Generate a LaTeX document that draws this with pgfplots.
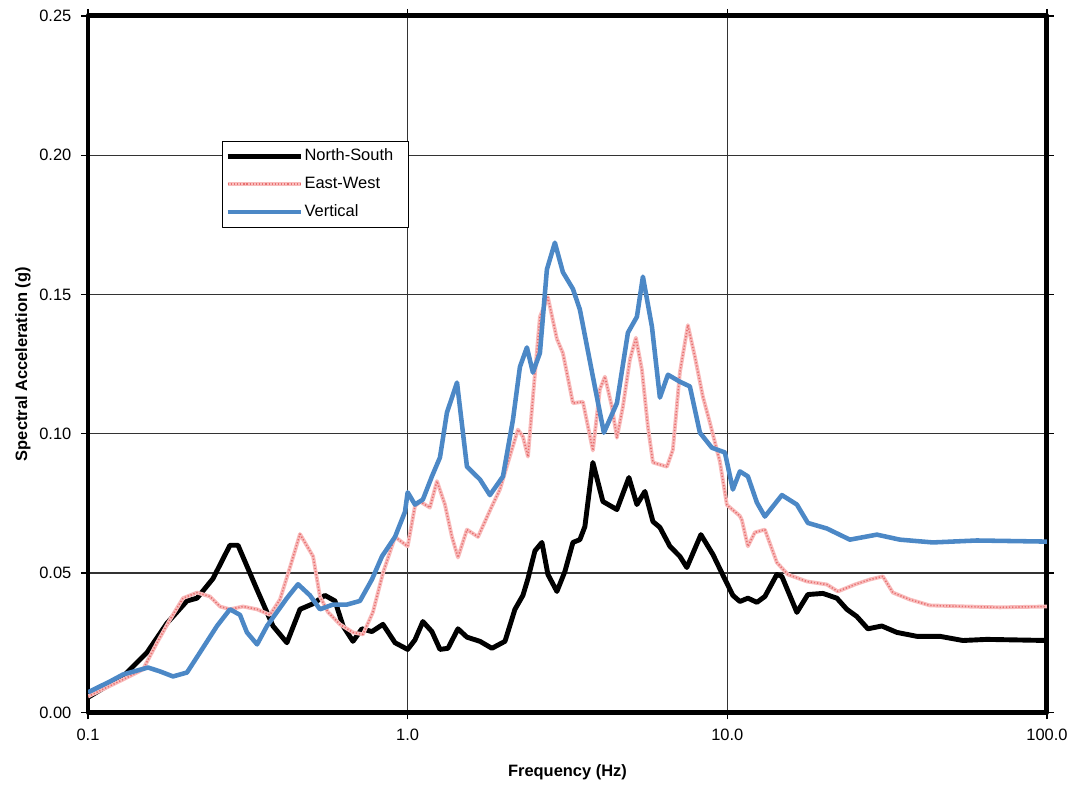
\documentclass[border=0pt]{standalone}
\usepackage{pgfplots}
\pgfplotsset{compat=1.18}
\usepackage{fontspec}
\setmainfont{Liberation Sans}

\definecolor{nscol}{RGB}{0,0,0}
\definecolor{ewcol}{RGB}{248,188,188}
\definecolor{ewdot}{RGB}{232,112,112}
\definecolor{vcol}{RGB}{76,136,198}

% North-South component
\pgfplotstableread{
f       sa
0.1     0.0054
0.1287  0.0129
0.153   0.0215
0.1766  0.032
0.204   0.040
0.2193  0.041
0.246   0.048
0.278   0.060
0.2946  0.060
0.338   0.044
0.379   0.031
0.419   0.025
0.4605  0.037
0.506   0.039
0.551   0.042
0.5925  0.040
0.628   0.031
0.6745  0.0255
0.7195  0.030
0.773   0.029
0.837   0.0316
0.913   0.025
1.0     0.0226
1.054   0.026
1.116   0.0326
1.191   0.029
1.262   0.0226
1.337   0.023
1.437   0.030
1.533   0.027
1.684   0.0255
1.835   0.023
2.016   0.0255
2.166   0.037
2.294   0.042
2.379   0.048
2.502   0.058
2.631   0.061
2.747   0.0495
2.931   0.0434
3.105   0.0506
3.289   0.061
3.458   0.062
3.585   0.0667
3.798   0.0897
4.082   0.0757
4.515   0.0728
4.923   0.0843
5.215   0.0746
5.525   0.0793
5.853   0.0685
6.154   0.0664
6.615   0.0596
7.107   0.056
7.474   0.052
8.268   0.0638
9.016   0.0567
9.62    0.050
10.41   0.0420
10.95   0.0398
11.60   0.041
12.38   0.0395
13.11   0.0416
14.29   0.0495
14.82   0.0488
16.51   0.0359
17.87   0.0423
19.91   0.0427
22.02   0.041
23.66   0.037
25.43   0.0344
27.53   0.030
30.45   0.031
33.93   0.0287
39.18   0.0273
46.24   0.0273
54.58   0.0258
64.86   0.0262
100     0.0258
}\tblNS

% East-West component
\pgfplotstableread{
f       sa
0.1     0.0057
0.1287  0.0118
0.1486  0.0154
0.1644  0.025
0.1805  0.0333
0.1983  0.041
0.2193  0.043
0.2407  0.0416
0.2588  0.038
0.278   0.037
0.3053  0.038
0.338   0.037
0.3709  0.035
0.3987  0.0405
0.4283  0.052
0.4605  0.064
0.506   0.056
0.5316  0.0416
0.5632  0.036
0.6141  0.0316
0.6745  0.0287
0.7247  0.028
0.7789  0.036
0.837   0.050
0.913   0.063
1.0     0.0596
1.054   0.074
1.093   0.0757
1.174   0.0735
1.235   0.083
1.308   0.0746
1.376   0.063
1.437   0.0556
1.533   0.0656
1.660   0.063
1.835   0.074
1.944   0.080
2.089   0.092
2.213   0.1015
2.294   0.099
2.379   0.0918
2.465   0.113
2.593   0.142
2.747   0.149
2.931   0.134
3.060   0.129
3.289   0.111
3.534   0.1115
3.798   0.094
3.995   0.116
4.141   0.1205
4.355   0.1097
4.515   0.0986
4.714   0.1097
4.958   0.1266
5.177   0.1345
5.406   0.123
5.644   0.1026
5.853   0.0897
6.474   0.0882
6.758   0.0943
7.107   0.122
7.529   0.139
7.919   0.1277
8.389   0.1133
8.822   0.104
9.48    0.090
9.97    0.0745
10.95   0.0705
11.11   0.069
11.60   0.0596
12.20   0.0646
13.11   0.0656
14.29   0.0538
15.47   0.0495
17.74   0.047
20.49   0.0459
22.18   0.0434
25.07   0.0459
27.93   0.0477
30.67   0.0488
32.96   0.043
37.26   0.0405
43.02   0.0384
56.18   0.038
71.23   0.0377
100     0.038
}\tblEW

% Vertical component
\pgfplotstableread{
f       sa
0.1     0.0072
0.1172  0.0111
0.1287  0.0136
0.1541  0.0161
0.168   0.0147
0.1845  0.0129
0.204   0.0143
0.224   0.0215
0.2532  0.031
0.278   0.037
0.2988  0.035
0.3142  0.0287
0.338   0.0244
0.363   0.031
0.419   0.041
0.4539  0.046
0.4947  0.042
0.5316  0.037
0.5839  0.0387
0.6459  0.0387
0.7092  0.040
0.7732  0.0477
0.8312  0.056
0.913   0.063
0.981   0.072
1.0     0.079
1.054   0.0746
1.116   0.0764
1.191   0.0847
1.262   0.0915
1.327   0.1076
1.427   0.1184
1.533   0.0882
1.684   0.0836
1.809   0.078
1.987   0.0847
2.135   0.105
2.245   0.124
2.361   0.131
2.465   0.122
2.593   0.129
2.727   0.159
2.888   0.1686
3.060   0.158
3.289   0.152
3.458   0.1446
3.798   0.1205
4.111   0.1004
4.515   0.111
4.888   0.1363
5.215   0.142
5.445   0.1564
5.810   0.1385
6.154   0.113
6.521   0.1212
7.107   0.1187
7.638   0.117
8.210   0.1004
8.949   0.095
9.828   0.0933
10.41   0.080
10.95   0.0865
11.60   0.0847
12.38   0.0753
13.11   0.0703
14.82   0.078
16.51   0.0746
17.87   0.068
20.49   0.066
24.18   0.062
29.38   0.0638
34.67   0.062
43.96   0.061
60.36   0.0617
100     0.0613
}\tblV

\begin{document}
\begin{tikzpicture}[font=\fontsize{9.4}{11.3}\selectfont]
\begin{axis}[
  scale only axis,
  width=548pt, height=398pt,
  xmode=log,
  xmin=0.1, xmax=100,
  ymin=0, ymax=0.25,
  xtick={0.1,1,10,100},
  xticklabels={0.1,1.0,10.0,100.0},
  xminorticks=false,
  ytick={0,0.05,0.1,0.15,0.2,0.25},
  yticklabels={0.00,0.05,0.10,0.15,0.20,0.25},
  grid=major,
  major grid style={black!80, line width=0.7pt},
  axis line style={line width=2.8pt, black},
  tick align=outside,
  major tick length=4pt,
  tick style={black, line width=0.8pt},
  xticklabel style={yshift=-2pt},
  yticklabel style={xshift=-2pt},
  xlabel={\textbf{Frequency (Hz)}},
  ylabel={\textbf{Spectral Acceleration (g)}},
  xlabel style={at={(axis description cs:0.5,-0.0862)}, anchor=center},
  ylabel style={at={(axis description cs:-0.068,0.5)}, anchor=center},
  legend style={
    at={(axis description cs:0.1397,0.821)}, anchor=north west,
    draw=black, line width=0.6pt, fill=white,
    inner xsep=1.5pt, inner ysep=2.5pt,
    row sep=3.8pt,
    nodes={inner xsep=0.6pt},
    font=\fontsize{9.4}{11.3}\selectfont,
  },
  legend cell align=left,
  legend image code/.code={\draw[#1] (0pt,0pt) -- (42pt,0pt);},
  line join=round,
]
\addplot[color=nscol, line width=2.8pt] table[x=f, y=sa] {\tblNS};
\addlegendentry{North-South\hspace*{6.4pt}}
\addplot[color=ewcol, line width=2.2pt,
  postaction={draw=ewdot, line width=0.9pt, dash pattern=on 0.7pt off 1.1pt}]
  table[x=f, y=sa] {\tblEW};
\addlegendentry{East-West}
\addplot[color=vcol, line width=2.6pt] table[x=f, y=sa] {\tblV};
\addlegendentry{Vertical}
\end{axis}
\pgfresetboundingbox
\path (current axis.south west) ++(-50.3pt,-42.9pt) rectangle ([shift={(14.9pt,9.1pt)}]current axis.north east);
\end{tikzpicture}
\end{document}
